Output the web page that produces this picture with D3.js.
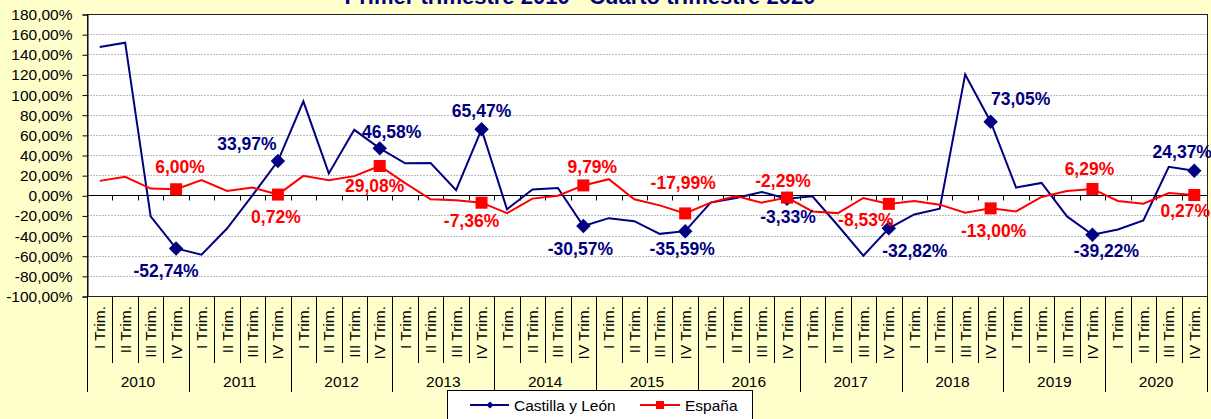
<!doctype html>
<html lang="es">
<head>
  <meta charset="utf-8">
  <title>Castilla y León - España</title>
  <script type="text/javascript" src="https://cdnjs.cloudflare.com/ajax/libs/d3/7.8.5/d3.min.js"></script>
  <style>
    body { margin: 0; background: #ffffcc; }
    svg { display: block; font-family: "Liberation Sans", Arial, sans-serif; }
  </style>
</head>
<body>
  <svg width="1211" height="419" id="svg"></svg>
</body>
<script type="text/javascript">

  // years and quarter labels for the category axis
  var years = [2010, 2011, 2012, 2013, 2014, 2015, 2016, 2017, 2018, 2019, 2020];
  var quarters = ["I Trim.", "II Trim.", "III Trim.", "IV Trim."];

  // series values (%), one per quarter
  var cyl = [147.3, 151.5, -21, -52.74, -59, -33, 0, 33.97,
             93.3, 21.7, 65, 46.58, 31.7, 32, 5, 65.47,
             -14, 5.7, 7.3, -30.57, -22.7, -25.7, -38.3, -35.59,
             -7.3, -2.7, 3.3, -3.33, -1, -30, -60, -32.82,
             -19, -13.3, 120, 73.05, 7.7, 12.3, -21, -39.22,
             -34, -25, 28.3, 24.37];
  var esp = [14.3, 18.3, 6.7, 6.00, 15, 4.3, 7.7, 0.72,
             19.3, 15, 19, 29.08, 12, -4, -5, -7.36,
             -17.7, -3.3, -0.5, 9.79, 16, -4, -10, -17.99,
             -7.3, -0.7, -7.3, -2.29, -16, -17.7, -2.7, -8.53,
             -5.7, -9.3, -17.3, -13.00, -16, -1.7, 4.3, 6.29,
             -5.7, -8.3, 2.3, 0.27];
  var yTicks = [-100, -80, -60, -40, -20, 0, 20, 40, 60, 80, 100, 120, 140, 160, 180];

  // hand placed label offsets (Excel style), only the IV Trim. points are labelled
  var cylLabelOff = {3: [-10, 29], 7: [-31, -11], 11: [12, -10], 15: [0, -12], 19: [-3, 29],
                     23: [-3, 24], 27: [1, 24], 31: [26, 29], 35: [30, -17], 39: [14, 22], 43: [-12, -13]};
  var espLabelOff = {3: [4, -16], 7: [-2, 28], 11: [-5, 26], 15: [-10, 24], 19: [9, -12],
                     23: [-2, -24], 27: [-4, -11], 31: [-23, 22], 35: [3, 29], 39: [-3, -14], 43: [-9, 22]};

  var navy = "#000080", red = "#ff0000";
  var pL = 87, pR = 1207, pT = 14, pB = 296;

  var es = d3.formatLocale({decimal: ",", thousands: ".", grouping: [3], currency: ["", "€"], minus: "-"});
  var pct = function(v) { return es.format(".2f")(v) + "%"; };

  var cats = d3.range(years.length * quarters.length);
  var x = d3.scaleBand().domain(cats).range([pL, pR]);
  var y = d3.scaleLinear().domain([-100, 180]).range([pB, pT]);
  var cx = function(i) { return x(i) + x.bandwidth() / 2; };

  var svg = d3.select('#svg');

  svg.append('rect').attr('width', 1211).attr('height', 419).attr('fill', '#ffffcc');

  // title (top part is cut off in the original)
  svg.append('text')
    .attr('x', 580).attr('y', 4)
    .attr('text-anchor', 'middle')
    .attr('font-size', 22).attr('font-weight', 'bold')
    .attr('fill', navy)
    .text('Primer trimestre 2010 - Cuarto trimestre 2020');

  // plot area
  svg.append('rect')
    .attr('x', pL).attr('y', pT)
    .attr('width', pR - pL).attr('height', pB - pT)
    .attr('fill', '#fff');

  // grid
  svg.append('g').selectAll('line')
    .data(yTicks.filter(function(d) { return d != 0 && d != 180 && d != -100; }))
    .join('line')
    .attr('x1', pL).attr('x2', pR)
    .attr('y1', function(d) { return Math.round(y(d)) + 0.5; })
    .attr('y2', function(d) { return Math.round(y(d)) + 0.5; })
    .attr('stroke', '#bdbdbd')
    .attr('stroke-dasharray', '2,1');

  svg.append('rect')
    .attr('x', pL + 0.5).attr('y', pT + 0.5)
    .attr('width', pR - pL).attr('height', pB - pT)
    .attr('fill', 'none').attr('stroke', '#222');

  // y axis
  var yAxis = svg.append('g')
    .attr('transform', 'translate(' + (pL + 0.5) + ',0.5)')
    .call(d3.axisLeft(y).tickValues(yTicks).tickFormat(pct).tickSize(5).tickPadding(10));
  yAxis.attr('font-family', null).attr('font-size', 15.5);
  yAxis.selectAll('text').attr('fill', '#000');
  yAxis.select('.domain').attr('stroke', '#000');

  // zero line with category ticks
  var zero = svg.append('g').attr('transform', 'translate(0,' + (Math.round(y(0)) + 0.5) + ')');
  zero.append('line').attr('x1', pL).attr('x2', pR).attr('stroke', '#000');
  zero.selectAll('.tk').data(cats).join('line').attr('class', 'tk')
    .attr('x1', function(i) { return Math.round(x(i)) + 0.5; })
    .attr('x2', function(i) { return Math.round(x(i)) + 0.5; })
    .attr('y1', 0).attr('y2', 5).attr('stroke', '#000');

  // category labels below the plot
  var lab = svg.append('g');
  lab.selectAll('line').data(cats.concat([cats.length])).join('line')
    .attr('x1', function(i) { return Math.round(i < cats.length ? x(i) : pR) + 0.5; })
    .attr('x2', function(i) { return Math.round(i < cats.length ? x(i) : pR) + 0.5; })
    .attr('y1', pB)
    .attr('y2', function(i) { return i % 4 == 0 ? 392 : 363; })
    .attr('stroke', '#000');
  lab.selectAll('.q').data(cats).join('text').attr('class', 'q')
    .attr('transform', function(i) { return 'translate(' + (cx(i) + 5.5) + ',306) rotate(-90)'; })
    .attr('text-anchor', 'end')
    .attr('font-size', 15.5)
    .text(function(i) { return quarters[i % 4]; });
  lab.selectAll('.yr').data(years).join('text').attr('class', 'yr')
    .attr('x', function(d, k) { return (x(k * 4) + x(k * 4 + 3) + x.bandwidth()) / 2; })
    .attr('y', 387)
    .attr('text-anchor', 'middle')
    .attr('font-size', 15.5)
    .text(function(d) { return d; });

  // series
  var line = d3.line().x(function(d, i) { return cx(i); }).y(function(d) { return y(d); });
  svg.append('path').datum(cyl).attr('d', line)
    .attr('fill', 'none').attr('stroke', navy).attr('stroke-width', 2);
  svg.append('path').datum(esp).attr('d', line)
    .attr('fill', 'none').attr('stroke', red).attr('stroke-width', 2);

  var marked = cats.filter(function(i) { return i % 4 == 3; });

  svg.append('g').selectAll('path').data(marked).join('path')
    .attr('d', d3.symbol(d3.symbolSquare, 105)())
    .attr('transform', function(i) { return 'translate(' + cx(i) + ',' + y(cyl[i]) + ') rotate(45)'; })
    .attr('fill', navy);
  svg.append('g').selectAll('rect').data(marked).join('rect')
    .attr('x', function(i) { return cx(i) - 6; })
    .attr('y', function(i) { return y(esp[i]) - 6; })
    .attr('width', 12).attr('height', 12)
    .attr('fill', red);

  // data labels
  function labels(vals, off, color) {
    svg.append('g').selectAll('text').data(marked).join('text')
      .attr('x', function(i) { return cx(i) + off[i][0]; })
      .attr('y', function(i) { return y(vals[i]) + off[i][1]; })
      .attr('text-anchor', 'middle')
      .attr('font-size', 17.5).attr('font-weight', 'bold')
      .attr('fill', color)
      .text(function(i) { return pct(vals[i]); });
  }
  labels(cyl, cylLabelOff, navy);
  labels(esp, espLabelOff, red);

  // legend
  var lg = svg.append('g');
  lg.append('rect').attr('x', 447.5).attr('y', 390.5).attr('width', 305).attr('height', 40)
    .attr('fill', '#fff').attr('stroke', '#000');
  lg.append('line').attr('x1', 470).attr('x2', 509).attr('y1', 405).attr('y2', 405)
    .attr('stroke', navy).attr('stroke-width', 2);
  lg.append('path').attr('d', d3.symbol(d3.symbolSquare, 26)())
    .attr('transform', 'translate(490,405) rotate(45)').attr('fill', navy);
  lg.append('text').attr('x', 514).attr('y', 410.5).attr('font-size', 15.5).text('Castilla y León');
  lg.append('line').attr('x1', 640).attr('x2', 680).attr('y1', 405).attr('y2', 405)
    .attr('stroke', red).attr('stroke-width', 2);
  lg.append('rect').attr('x', 656).attr('y', 401).attr('width', 8).attr('height', 8).attr('fill', red);
  lg.append('text').attr('x', 685).attr('y', 410.5).attr('font-size', 15.5).text('España');

</script>
</html>
